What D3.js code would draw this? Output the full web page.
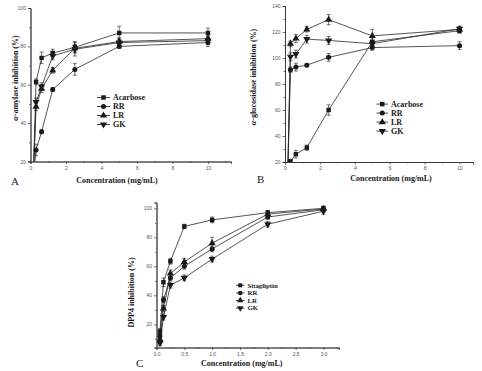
<!DOCTYPE html>
<html><head><meta charset="utf-8">
<script src="https://cdnjs.cloudflare.com/ajax/libs/d3/7.8.5/d3.min.js"></script>
<style>body{margin:0;background:#fff}svg{display:block}</style>
</head><body>
<script>
// ---------- DATA ----------
// Panel A: alpha-amylase
const concA = [0.156, 0.3125, 0.625, 1.25, 2.5, 5, 10];
const namesA = ["Acarbose", "RR", "LR", "GK"];
const acarboseA = [12, 61.5, 74, 76.5, 79.5, 87, 87];
const rrA = [10, 26, 35.5, 57.5, 68, 80, 82];
const lrA = [12, 48.5, 58, 67.5, 79, 82.5, 84];
const gkA = [12, 51, 59, 75, 78.5, 82, 83];
const acarboseAErr = [0, 1.5, 3, 2, 3, 3.5, 2.5];
const rrAErr = [0, 3, 1, 1, 3, 1, 2];
const lrAErr = [0, 2, 2, 1.5, 2, 2, 2];
const gkAErr = [0, 2, 2, 2, 3.5, 2, 2];
const xTicksA = [0, 2, 4, 6, 8, 10];
const yTicksA = [20, 40, 60, 80, 100];

// Panel B: alpha-glucosidase
const concB = [0.156, 0.3125, 0.625, 1.25, 2.5, 5, 10];
const namesB = ["Acarbose", "RR", "LR", "GK"];
const acarboseB = [15, 20.5, 26, 31, 60, 112.5, 121];
const rrB = [10, 91, 93, 94.5, 100.5, 108, 109.5];
const lrB = [10, 111, 115, 122, 129.5, 117, 122];
const gkB = [10, 101, 103, 114.5, 113.5, 111, 122.5];
const acarboseBErr = [0, 1, 3, 2, 4, 3, 2];
const rrBErr = [0, 2, 3, 1, 3, 2, 3];
const lrBErr = [0, 2, 3, 2, 4, 5, 2];
const gkBErr = [0, 3, 3, 3, 3, 2, 2];
const xTicksB = [0, 2, 4, 6, 8, 10];
const yTicksB = [20, 40, 60, 80, 100, 120, 140];

// Panel C: DPP4
const concC = [0.0625, 0.125, 0.25, 0.5, 1, 2, 3];
const namesC = ["Sitagliptin", "RR", "LR", "GK"];
const sitagliptinC = [15, 49, 63.5, 87.5, 92, 97, 100];
const rrC = [12, 37, 52, 60, 72, 94, 99];
const lrC = [9.5, 31, 55, 63, 76, 96, 99.5];
const gkC = [7, 25, 47, 52, 65, 89, 98];
const sitagliptinCErr = [2, 3, 2, 1.5, 2, 1.5, 1.5];
const rrCErr = [1.5, 2, 2, 2, 2, 1.5, 1.5];
const lrCErr = [2, 2, 2.5, 2.5, 4, 2, 1.5];
const gkCErr = [1.5, 2, 2, 2, 2, 2, 2];
const xTicksC = [0, 0.5, 1, 1.5, 2, 2.5, 3];
const yTicksC = [20, 40, 60, 80, 100];

// ---------- DRAW ----------
const svg = d3.select("body").append("svg").attr("width", 482).attr("height", 371);
const serif = "'Liberation Serif','Times New Roman',serif";
const sans = "'Liberation Sans',Arial,sans-serif";
const ink = "#1a1a1a";

const shapes = [
  {type: d3.symbolSquare, size: 20, rot: 0},
  {type: d3.symbolCircle, size: 20, rot: 0},
  {type: d3.symbolTriangle, size: 22, rot: 0},
  {type: d3.symbolTriangle, size: 22, rot: 180}
];
function marker(g, i, x, y, scale) {
  const s = shapes[i];
  g.append("path")
    .attr("d", d3.symbol().type(s.type).size(s.size * (scale || 1))())
    .attr("transform", `translate(${x},${y}) rotate(${s.rot})`)
    .attr("fill", ink);
}

let clipId = 0;
function panel(cfg) {
  const x = d3.scaleLinear().domain(cfg.xDomain).range(cfg.xRange);
  const y = d3.scaleLinear().domain(cfg.yDomain).range(cfg.yRange);
  const g = svg.append("g");

  const xAxis = d3.axisBottom(x).tickValues(cfg.xTicks).tickSize(2.5).tickPadding(2).tickFormat(cfg.xFmt);
  const xMinor = d3.axisBottom(x).tickValues(cfg.xMinor).tickSize(1.5).tickFormat("");
  const yAxis = d3.axisLeft(y).tickValues(cfg.yTicks).tickSize(2.5).tickPadding(2).tickFormat(d3.format("d"));
  const yMinor = d3.axisLeft(y).tickValues(cfg.yMinor).tickSize(1.5).tickFormat("");
  const styleAxis = sel => {
    sel.select(".domain").attr("stroke", "#333").attr("stroke-width", 0.8);
    sel.selectAll(".tick line").attr("stroke", "#333").attr("stroke-width", 0.7);
    sel.selectAll("text").attr("font-family", sans).attr("font-size", 5).attr("fill", "#555");
  };
  g.append("g").attr("transform", `translate(0,${cfg.yRange[0]})`).call(xMinor).call(styleAxis);
  g.append("g").attr("transform", `translate(0,${cfg.yRange[0]})`).call(xAxis).call(styleAxis);
  g.append("g").attr("transform", `translate(${cfg.xRange[0]},0)`).call(yMinor).call(styleAxis);
  g.append("g").attr("transform", `translate(${cfg.xRange[0]},0)`).call(yAxis).call(styleAxis);

  const id = "clip" + (clipId++);
  svg.append("clipPath").attr("id", id).append("rect")
    .attr("x", cfg.xRange[0]).attr("y", cfg.yRange[1] - 4)
    .attr("width", cfg.xRange[1] - cfg.xRange[0]).attr("height", cfg.yRange[0] - cfg.yRange[1] + 4);
  const pg = g.append("g").attr("clip-path", `url(#${id})`);

  const line = d3.line().x((d, i) => x(cfg.conc[i])).y(d => y(d));
  cfg.series.forEach((s) => {
    pg.append("path").datum(s.values).attr("d", line)
      .attr("fill", "none").attr("stroke", "#2a2a2a").attr("stroke-width", 0.8);
  });
  cfg.series.forEach((s, si) => {
    s.values.forEach((v, i) => {
      const cx = x(cfg.conc[i]), e = s.err[i];
      if (e > 0) {
        const y1 = y(v + e), y2 = y(v - e);
        pg.append("line").attr("x1", cx).attr("x2", cx).attr("y1", y1).attr("y2", y2).attr("stroke", ink).attr("stroke-width", 0.6);
        [y1, y2].forEach(yy => pg.append("line").attr("x1", cx - 2).attr("x2", cx + 2).attr("y1", yy).attr("y2", yy).attr("stroke", ink).attr("stroke-width", 0.6));
      }
      marker(pg, si, cx, y(v));
    });
  });

  const L = cfg.legend;
  cfg.series.forEach((s, si) => {
    const ly = L.y + si * L.dy;
    g.append("line").attr("x1", L.x).attr("x2", L.x + L.len).attr("y1", ly).attr("y2", ly).attr("stroke", ink).attr("stroke-width", 0.8);
    marker(g, si, L.x + L.len / 2, ly, L.ms);
    g.append("text").attr("x", L.x + L.len + 3).attr("y", ly).attr("dy", "0.33em")
      .attr("font-family", serif).attr("font-weight", "bold").attr("font-size", L.fs).attr("fill", ink).text(s.name);
  });

  g.append("text").attr("x", cfg.xTitle[0]).attr("y", cfg.xTitle[1]).attr("text-anchor", "middle")
    .attr("font-family", serif).attr("font-weight", "bold").attr("font-size", 8).attr("fill", ink)
    .text("Concentration (mg/mL)");
  const yt = g.append("text").attr("transform", `translate(${cfg.yTitle[0]},${cfg.yTitle[1]}) rotate(-90)`)
    .attr("text-anchor", "middle").attr("font-family", serif).attr("font-weight", "bold").attr("font-size", 8).attr("fill", ink);
  if (cfg.yTitleItalic) {
    yt.append("tspan").attr("font-style", "italic").text(cfg.yTitleItalic);
  }
  yt.append("tspan").text(cfg.yTitleText);
  g.append("text").attr("x", cfg.letter[0]).attr("y", cfg.letter[1])
    .attr("font-family", serif).attr("font-size", 11).attr("fill", ink).text(cfg.letter[2]);
}

const range = (a, b, s) => d3.range(a, b + 1e-9, s);

panel({
  conc: concA, xDomain: [0, 11.3], xRange: [30.5, 231], yDomain: [20, 100], yRange: [161.5, 8],
  xTicks: xTicksA, xMinor: range(1, 11, 2), yTicks: yTicksA, yMinor: range(30, 90, 20), xFmt: d3.format("d"),
  series: [
    {name: namesA[0], values: acarboseA, err: acarboseAErr},
    {name: namesA[1], values: rrA, err: rrAErr},
    {name: namesA[2], values: lrA, err: lrAErr},
    {name: namesA[3], values: gkA, err: gkAErr}
  ],
  legend: {x: 97, y: 97.5, dy: 9, len: 13, fs: 8, ms: 1},
  xTitle: [117, 183], yTitle: [17.5, 78], yTitleItalic: "α", yTitleText: "-amylase inhibition (%)",
  letter: [11, 185, "A"]
});

panel({
  conc: concB, xDomain: [0, 10.77], xRange: [285, 473], yDomain: [20, 140], yRange: [162, 6],
  xTicks: xTicksB, xMinor: range(1, 9, 2), yTicks: yTicksB, yMinor: range(30, 130, 20), xFmt: d3.format("d"),
  series: [
    {name: namesB[0], values: acarboseB, err: acarboseBErr},
    {name: namesB[1], values: rrB, err: rrBErr},
    {name: namesB[2], values: lrB, err: lrBErr},
    {name: namesB[3], values: gkB, err: gkBErr}
  ],
  legend: {x: 376.5, y: 104.1, dy: 9, len: 11.5, fs: 8, ms: 1},
  xTitle: [391, 181], yTitle: [255.5, 77], yTitleItalic: "α", yTitleText: "-glucosidase inhibition (%)",
  letter: [257, 183, "B"]
});

panel({
  conc: concC, xDomain: [0, 3.28], xRange: [156.5, 339], yDomain: [4, 104], yRange: [347.5, 202.5],
  xTicks: xTicksC, xMinor: range(0.25, 3.25, 0.5), yTicks: yTicksC, yMinor: range(10, 90, 20), xFmt: d3.format(".1f"),
  series: [
    {name: namesC[0], values: sitagliptinC, err: sitagliptinCErr},
    {name: namesC[1], values: rrC, err: rrCErr},
    {name: namesC[2], values: lrC, err: lrCErr},
    {name: namesC[3], values: gkC, err: gkCErr}
  ],
  legend: {x: 236, y: 285.3, dy: 7.6, len: 8.5, fs: 6.8, ms: 0.8},
  xTitle: [241.7, 366], yTitle: [134, 292.5], yTitleItalic: null, yTitleText: "DPP4 inhibition (%)",
  letter: [136, 367, "C"]
});
</script>
</body></html>
